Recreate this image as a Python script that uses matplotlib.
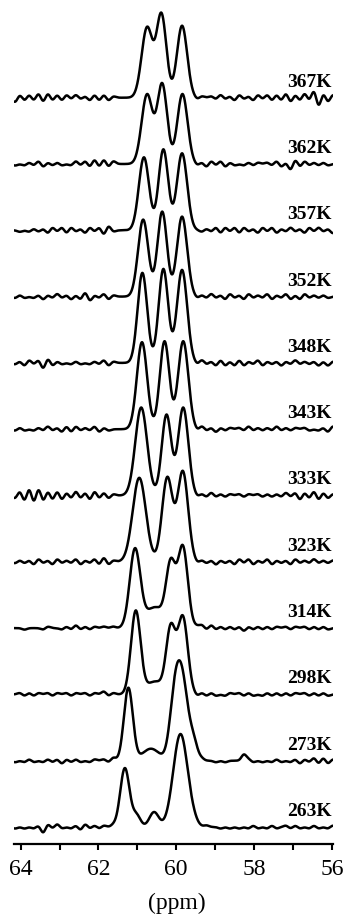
import numpy as np
import matplotlib
matplotlib.use('Agg')
import matplotlib.pyplot as plt

plt.rcParams['font.family'] = ['Liberation Serif', 'DejaVu Serif']

#%% data (ppm, heights in px above each trace baseline)

temps = ['367K', '362K', '357K', '352K', '348K', '343K',
         '333K', '323K', '314K', '298K', '273K', '263K']

peak_pos = [
    [60.75, 60.38, 59.85],
    [60.75, 60.36, 59.84],
    [60.83, 60.33, 59.85],
    [60.85, 60.36, 59.85],
    [60.87, 60.33, 59.85],
    [60.88, 60.30, 59.82],
    [60.90, 60.25, 59.82],
    [60.95, 60.23, 59.83],
    [61.06, 60.55, 60.14, 59.83],
    [61.04, 60.55, 60.14, 59.83],
    [61.23, 60.65, 60.05, 59.85, 59.55],
    [61.32, 61.02, 60.57, 59.89, 59.55],
]

peak_height = [
    [71, 85, 72],
    [70, 81, 70],
    [73, 81, 77],
    [77, 85, 80],
    [90, 94, 93],
    [87, 88, 88],
    [88, 81, 88],
    [84, 85, 91],
    [80, 21, 70, 83],
    [84, 13, 71, 79],
    [73, 12, 82, 94, 27],
    [59, 14, 15, 93, 20],
]

peak_hwhm = [
    [0.165, 0.15, 0.155],
    [0.165, 0.15, 0.155],
    [0.155, 0.145, 0.155],
    [0.155, 0.145, 0.155],
    [0.145, 0.145, 0.155],
    [0.155, 0.145, 0.155],
    [0.18, 0.145, 0.155],
    [0.20, 0.16, 0.16],
    [0.16, 0.28, 0.14, 0.15],
    [0.145, 0.25, 0.14, 0.15],
    [0.135, 0.25, 0.15, 0.18, 0.12],
    [0.14, 0.12, 0.14, 0.22, 0.12],
]

# baseline wiggles, extrema every 0.12 ppm
ripple_left_start = 64.14
ripple_right_start = 59.46
ripple_step = 0.12

ripple_left = [
    [-3, 2, -2, 2, -2, 3, -3, 3, -2, 2, -2, 2, -1, 2, -1, 1, -2, 2, -2, 2, -2, 1],
    [-1, 0, -1, 1, -1, 2, -2, 1, -1, 1, -1, 0, -1, 2, -1, 2, -2, 3, -2, 3, -2, 2],
    [0, -1, 0, -1, 1, -1, 1, -2, 2, -1, 2, -2, 2, -1, 1, -2, 2, -1, 2, -3, 3, -1],
    [-1, 1, -1, 0, -1, 1, -2, 1, -1, 2, -1, 1, -2, 1, -2, 3, -3, 1, -1, 2, -2, 1],
    [-1, 1, -2, 2, -1, 2, -4, 3, -2, 1, -1, 0, -1, 1, -1, 0, -1, 1, -1, 2, -2, 1],
    [-1, 1, -1, 0, -1, 1, -1, 2, -1, 1, -2, 2, -2, 2, -1, 1, -1, 2, -2, 1, -1, 0],
    [-2, 3, -4, 5, -5, 5, -4, 3, -3, 3, -3, 2, -2, 3, -2, 2, -3, 3, -2, 2, -2, 1],
    [-1, 1, -1, 1, -2, 2, -1, 1, -2, 2, -1, 1, -1, 2, -2, 1, -1, 2, -2, 3, -2, 1],
    [0, 0, -1, 0, 0, 0, -1, 1, 0, 0, -1, 1, -1, 2, -1, 1, -1, 1, 0, 1, 0, 1],
    [0, 1, -1, 1, -1, 1, 0, 1, -1, 1, 0, 1, -1, 1, 0, 1, -1, 1, 0, 2, -1, 1],
    [-1, 0, -1, 1, -1, 0, -1, 1, -1, 1, -2, 1, -1, 1, -1, 0, -1, 1, 0, 1, -1, 2],
    [-1, 0, -1, 0, -1, 1, -4, 2, -1, 2, -1, 0, -1, 1, -2, 2, -1, 1, -1, 1, 0, 1],
]

ripple_right = [
    [-1, 1, 0, 1, -1, 2, -1, 1, -2, 2, -1, 1, -2, 2, -1, 2, -2, 2, -2, 3, -3, 2, -2, 3, -2, 5, -6, 3, -3, 2],
    [-1, 1, -2, 2, -1, 2, -2, 1, -1, 0, -1, 1, -1, 1, 0, 1, -1, 2, -2, 1, -4, 3, -2, 2, -1, 1, -1, 1, -1, 0],
    [0, -1, 1, -1, 2, -2, 2, -1, 2, -2, 2, -1, 1, -2, 2, -1, 2, -2, 1, -1, 2, -1, 1, -2, 2, -1, 2, -1, 1, -2],
    [-1, 1, -1, 2, -1, 1, -2, 2, -1, 1, -2, 2, -1, 1, -1, 2, -2, 1, -1, 2, -2, 1, -2, 2, -1, 1, -1, 1, -1, 0],
    [-1, 2, -1, 1, -2, 2, -2, 1, -2, 2, -2, 1, -1, 2, -2, 1, -1, 1, -2, 1, -1, 2, -1, 1, -1, 1, -2, 1, -2, 1],
    [-1, 2, -1, 1, -2, 1, -1, 1, 0, 1, -1, 2, -1, 1, -1, 1, -1, 2, -1, 1, -1, 1, 0, 1, -1, 0, -1, 1, -2, 2],
    [-1, 1, -1, 2, -1, 1, -1, 1, 0, 1, -1, 1, 0, 1, -1, 1, -1, 1, -1, 2, -1, 2, -3, 2, -2, 3, -3, 2, -2, 1],
    [-1, 1, -1, 1, -2, 1, -1, 1, -2, 2, -1, 2, -2, 1, -1, 2, -2, 1, -1, 1, -2, 2, -1, 1, -1, 2, -1, 1, -1, 1],
    [1, 2, -1, 2, -1, 1, -1, 1, -1, 1, -2, 1, -1, 1, -1, 1, -1, 1, 0, 1, -1, 1, 0, 1, -1, 1, -1, 1, -1, 0],
    [-1, 1, -1, 1, -1, 0, -1, 1, 0, 1, -1, 1, -1, 0, -1, 1, -1, 1, -1, 1, -1, 1, 0, 1, -1, 1, -1, 1, -1, 0],
    [0, 1, 0, 0, -1, 0, -1, 0, 0, 0, 4, 1, -1, 0, -1, 0, -1, 1, -1, 0, -1, 1, -2, 1, -1, 2, -2, 2, -2, 1],
    [0, 0, 1, 0, 0, -1, 0, -1, 0, -1, 0, -1, 1, -1, 0, -1, 1, -1, 0, 1, -1, 1, -1, 0, -1, 1, -1, 0, -1, 1],
]

x_ticks = [64, 63, 62, 61, 60, 59, 58, 57, 56]
x_ticklabels = ['64', '', '62', '', '60', '', '58', '', '56']

#%% layout

spacing = 66.3
bottom_offset = 17.0

ppm = np.linspace(64.17, 55.97, 1600)


def gauss(x, c, hwhm):
    s = hwhm / np.sqrt(2 * np.log(2))
    return np.exp(-0.5 * ((x - c) / s) ** 2)


def spectrum(pos, height, hwhm, left, right):
    pos = np.array(pos)
    hwhm = np.array(hwhm)
    # amplitudes so that the summed curve passes the read heights at the centres
    M = np.array([[gauss(p, q, w) for q, w in zip(pos, hwhm)] for p in pos])
    amp = np.clip(np.linalg.solve(M, np.array(height, float)), 0, None)
    y = np.zeros_like(ppm)
    for a, c, w in zip(amp, pos, hwhm):
        y += a * gauss(ppm, c, w)
    for k, a in enumerate(left):
        y += 1.5 * a * gauss(ppm, ripple_left_start - k * ripple_step, 0.075)
    for k, a in enumerate(right):
        y += 1.5 * a * gauss(ppm, ripple_right_start - k * ripple_step, 0.075)
    return y


fig = plt.figure(figsize=(3.49, 9.18), dpi=100)
ax = fig.add_axes([14 / 349, 74 / 918, 319 / 349, 844 / 918])

n = len(temps)
for i in range(n):
    off = bottom_offset + (n - 1 - i) * spacing
    y = spectrum(peak_pos[i], peak_height[i], peak_hwhm[i],
                 ripple_left[i], ripple_right[i])
    ax.plot(ppm, off + y, color='black', linewidth=1.8)
    ax.text(56.0, off + 11, temps[i], ha='right', va='baseline',
            fontsize=14, fontweight='bold')

ax.set_xlim(64.17, 55.97)
ax.set_ylim(0, 844)
for side in ['left', 'right', 'top']:
    ax.spines[side].set_visible(False)
ax.spines['bottom'].set_linewidth(1.6)
ax.set_yticks([])
ax.set_xticks(x_ticks)
ax.set_xticklabels(x_ticklabels)
ax.tick_params(axis='x', direction='out', length=4, width=1.5,
               labelsize=17, pad=7)
ax.set_xlabel('(ppm)', fontsize=17)
ax.xaxis.set_label_coords(0.511, -0.058)

fig.savefig('out.png', dpi=100)
